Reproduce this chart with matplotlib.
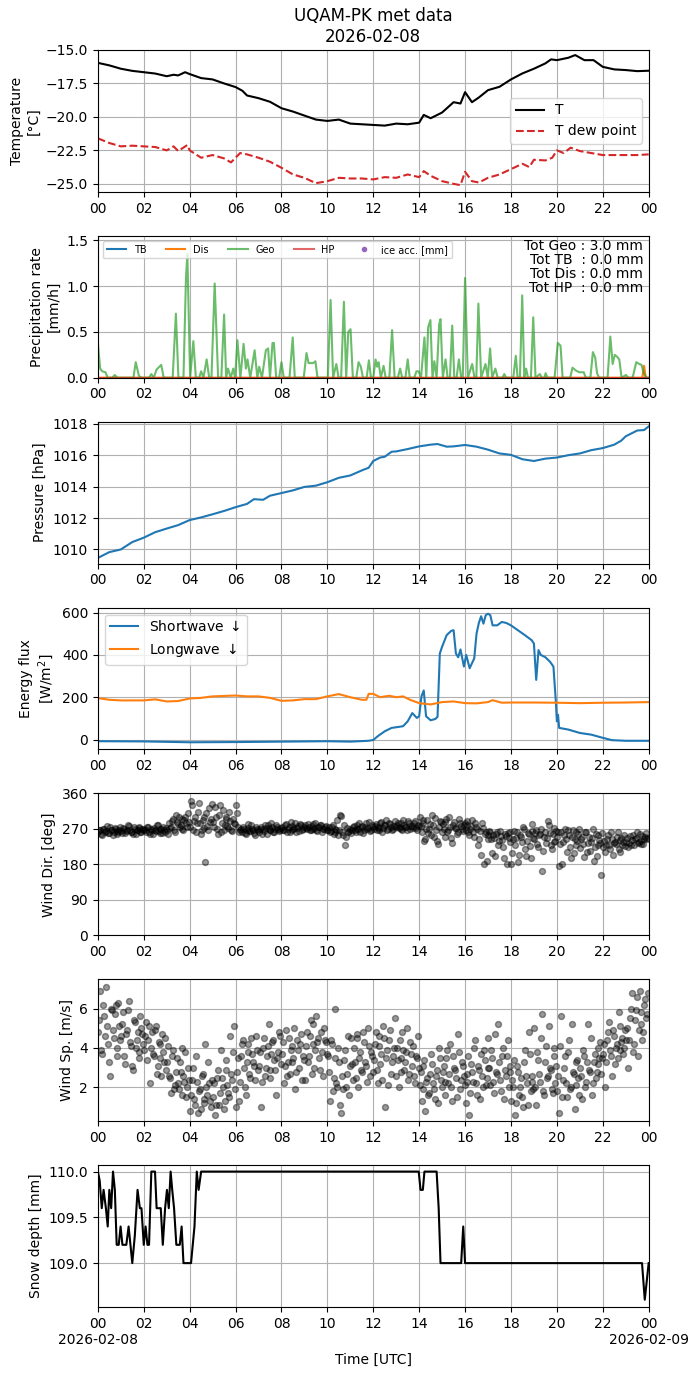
import numpy as np
import pandas as pd
import matplotlib
matplotlib.use("Agg")
import matplotlib.pyplot as plt
import matplotlib.dates as mdates
from matplotlib.ticker import FuncFormatter

# ---------------- data (hours since 2026-02-08 00 UTC) ----------------
temp_h = [0, 0.5, 1, 1.5, 2, 2.5, 3, 3.3, 3.5, 3.8, 4, 4.5, 5, 5.5, 6, 6.3, 6.5, 7, 7.5, 8, 8.5, 9, 9.5,
          10, 10.5, 11, 11.5, 12, 12.5, 13, 13.5, 14, 14.2, 14.5, 15, 15.5, 15.8, 16, 16.3, 16.6, 17, 17.5,
          18, 18.5, 19, 19.5, 19.75, 20, 20.5, 20.8, 21.2, 21.6, 22, 22.5, 23, 23.5, 24]
temp_T = [-15.96, -16.15, -16.4, -16.56, -16.66, -16.76, -16.96, -16.85, -16.9, -16.66, -16.8, -17.1, -17.2,
          -17.5, -17.77, -18.05, -18.4, -18.6, -18.87, -19.35, -19.6, -19.9, -20.2, -20.3, -20.2, -20.5,
          -20.55, -20.6, -20.65, -20.5, -20.55, -20.43, -19.85, -20.1, -19.67, -18.9, -19.0, -18.15, -18.9,
          -18.55, -18.0, -17.75, -17.2, -16.75, -16.4, -16.0, -15.7, -15.76, -15.58, -15.38, -15.76, -15.76,
          -16.26, -16.45, -16.5, -16.58, -16.55]
dew_h = [0, 0.5, 1, 1.5, 2, 2.5, 3, 3.3, 3.5, 3.9, 4, 4.5, 5, 5.5, 5.8, 6, 6.2, 6.5, 7, 7.5, 8, 8.5, 9, 9.5,
         10, 10.5, 11, 11.5, 12, 12.5, 13, 13.5, 14, 14.2, 14.5, 15, 15.5, 15.8, 16, 16.3, 16.6, 17, 17.5,
         18, 18.5, 18.8, 19, 19.5, 19.8, 20, 20.3, 20.6, 21, 21.5, 22, 22.5, 23, 23.5, 24]
dew_T = [-21.6, -21.95, -22.2, -22.15, -22.2, -22.25, -22.5, -22.2, -22.55, -22.1, -22.5, -23.05, -22.85,
         -23.1, -23.4, -23.05, -22.7, -22.8, -23.05, -23.35, -23.8, -24.3, -24.55, -24.95, -24.8, -24.55,
         -24.6, -24.6, -24.67, -24.5, -24.55, -24.3, -24.5, -24.05, -24.4, -24.8, -25.0, -25.1, -24.1,
         -24.8, -24.9, -24.55, -24.3, -23.9, -23.5, -23.75, -23.2, -23.25, -23.05, -22.5, -22.7, -22.3,
         -22.55, -22.7, -22.85, -22.85, -22.85, -22.85, -22.8]

geo_h = [0.0, 0.1, 0.19, 0.33, 0.43, 0.62, 0.74, 0.85, 1.55, 1.65, 1.79, 1.9, 2.23, 2.33, 2.43, 2.56, 2.76,
         2.87, 3.26, 3.4, 3.51, 3.73, 3.84, 3.9, 4.02, 4.16, 4.27, 4.41, 4.5, 4.6, 4.74, 4.85, 4.95, 5.09,
         5.24, 5.38, 5.5, 5.59, 5.67, 5.79, 5.9, 5.98, 6.08, 6.21, 6.35, 6.45, 6.52, 6.64, 6.83, 6.95, 7.03,
         7.15, 7.32, 7.42, 7.5, 7.61, 7.67, 7.77, 7.9, 8.0, 8.1, 8.35, 8.49, 8.58, 8.97, 9.09, 9.18, 9.38,
         9.48, 9.57, 10.02, 10.14, 10.25, 10.39, 10.49, 10.6, 10.72, 10.82, 10.91, 11.01, 11.11, 11.26,
         11.36, 11.46, 11.55, 11.71, 11.81, 11.9, 12.0, 12.1, 12.17, 12.23, 12.33, 12.45, 12.54, 12.7,
         12.82, 12.93, 13.07, 13.17, 13.26, 13.4, 13.5, 13.59, 13.79, 13.88, 13.98, 14.08, 14.23, 14.31,
         14.39, 14.49, 14.58, 14.66, 14.76, 14.87, 14.93, 15.03, 15.15, 15.24, 15.34, 15.44, 15.53, 15.63,
         15.73, 15.83, 15.9, 16.0, 16.12, 16.31, 16.41, 16.49, 16.58, 16.7, 16.89, 16.99, 17.09, 17.18,
         17.32, 17.42, 17.63, 17.71, 17.79, 18.1, 18.21, 18.29, 18.39, 18.49, 18.58, 18.66, 18.74, 18.87,
         18.97, 19.07, 19.26, 19.34, 19.46, 19.51, 19.59, 19.9, 20.04, 20.16, 20.25, 20.58, 20.68, 20.82,
         20.97, 21.07, 21.17, 21.26, 21.46, 21.57, 21.67, 21.75, 21.84, 22.21, 22.33, 22.43, 22.52, 22.62,
         22.72, 22.82, 23.01, 23.11, 23.3, 23.46, 23.59, 23.69, 23.79, 23.88, 24.0]
geo_v = [0.38, 0.1, 0.07, 0.06, 0, 0, 0.03, 0, 0, 0.17, 0.02, 0, 0, 0.04, 0, 0.09, 0.14,
         0, 0, 0.7, 0, 0, 1.1, 1.35, 0, 0.4, 0, 0, 0.07, 0, 0.2, 0, 0, 1.03,
         0, 0, 0.69, 0, 0.1, 0, 0.1, 0, 0.41, 0, 0.37, 0.1, 0.2, 0, 0.3, 0, 0.12,
         0, 0.3, 0.32, 0, 0.38, 0.38, 0, 0, 0.17, 0, 0, 0.44, 0, 0, 0.27, 0.16, 0.16,
         0.18, 0, 0, 0.85, 0, 0.15, 0, 0, 0.83, 0, 0.5, 0.53, 0, 0,
         0.17, 0.12, 0, 0, 0.19, 0, 0, 0.2, 0.12, 0.17, 0, 0.13, 0, 0,
         0.52, 0, 0, 0.1, 0, 0, 0.2, 0, 0, 0.07, 0.07, 0, 0.44, 0,
         0.55, 0.63, 0, 0.18, 0, 0.58, 0.64, 0, 0.2, 0, 0, 0.57, 0, 0,
         0.2, 0, 0, 1.09, 0, 0.15, 0, 0, 0.81, 0, 0.15, 0, 0.32, 0,
         0.1, 0, 0, 0.04, 0, 0, 0.24, 0, 0, 0.9, 0, 0.1, 0, 0,
         0.66, 0, 0.04, 0, 0, 0.05, 0, 0, 0.38, 0.35, 0, 0, 0.11, 0.08,
         0.06, 0.06, 0.06, 0, 0, 0.28, 0.22, 0.05, 0, 0, 0.45, 0.15, 0.25, 0.23,
         0.2, 0, 0.03, 0, 0, 0.17, 0.15, 0.14, 0.05, 0, 0]
tb_h = [0, 24]
tb_v = [0, 0]
dis_h = [0, 23.72, 23.8, 23.86, 23.92, 24]
dis_v = [0, 0, 0.13, 0.02, 0, 0]
hp_h = [0, 24]
hp_v = [0, 0]
tot_geo, tot_tb, tot_dis, tot_hp = 3.0, 0.0, 0.0, 0.0

pres_h = [0, 0.5, 1, 1.5, 2, 2.5, 3, 3.5, 4, 4.5, 5, 5.5, 6, 6.5, 6.8, 7.2, 7.5, 8, 8.5, 9, 9.5, 10, 10.5,
          11, 11.5, 11.8, 12, 12.3, 12.5, 12.8, 13, 13.5, 14, 14.5, 14.8, 15.2, 15.5, 16, 16.5, 17, 17.5,
          18, 18.5, 19, 19.5, 20, 20.5, 21, 21.5, 22, 22.5, 22.8, 23, 23.5, 23.8, 24]
pres_v = [1009.46, 1009.83, 1010.0, 1010.47, 1010.75, 1011.1, 1011.33, 1011.55, 1011.87, 1012.04, 1012.24,
          1012.45, 1012.69, 1012.9, 1013.2, 1013.16, 1013.42, 1013.59, 1013.76, 1013.98, 1014.06, 1014.28,
          1014.56, 1014.71, 1015.03, 1015.2, 1015.63, 1015.85, 1015.9, 1016.22, 1016.24, 1016.39, 1016.56,
          1016.67, 1016.71, 1016.54, 1016.56, 1016.65, 1016.54, 1016.35, 1016.11, 1016.02, 1015.74, 1015.63,
          1015.78, 1015.85, 1016.0, 1016.11, 1016.32, 1016.45, 1016.67, 1016.92, 1017.2, 1017.57, 1017.6,
          1017.83]

sw_h = [0, 2, 4, 6, 8, 10, 11, 11.8, 12, 12.2, 12.5, 12.8, 13, 13.3, 13.5, 13.7, 13.9, 14.0, 14.1, 14.2,
        14.3, 14.5, 14.7, 14.8, 14.9, 15.0, 15.2, 15.4, 15.5, 15.6, 15.7, 15.8, 15.95, 16.05, 16.2, 16.4,
        16.5, 16.6, 16.7, 16.8, 16.9, 17.0, 17.1, 17.2, 17.4, 17.6, 17.8, 18.0, 18.3, 18.6, 18.9, 19.0,
        19.1, 19.2, 19.3, 19.5, 19.7, 19.85, 19.95, 20.0, 20.05, 20.1, 20.5, 21, 21.5, 22, 22.4, 23, 24]
sw_v = [-8, -9, -13, -12, -10, -8, -10, -6, -2, 16, 39, 55, 58, 63, 86, 125, 102, 110, 204, 232,
        110, 91, 97, 107, 407, 439, 494, 514, 517, 407, 389, 426, 345, 400, 337, 384,
        501, 551, 583, 548, 588, 595, 588, 540, 540, 556, 551, 540, 517, 494, 470, 454,
        282, 423, 400, 389, 368, 345, 188, 86, 117, 55, 47, 31, 23, 8, -3, -6, -6]
lw_h = [0, 0.5, 1, 2, 2.5, 3, 3.5, 4, 4.5, 5, 6, 6.5, 7, 7.5, 8, 8.5, 9, 9.5, 10, 10.5, 11, 11.5, 11.7,
        11.8, 12, 12.3, 12.7, 13, 13.3, 13.6, 14, 14.5, 15, 15.5, 16, 16.5, 17, 17.2, 17.6, 18, 19, 20,
        21, 22, 23, 24]
lw_v = [196, 188, 185, 185, 190, 180, 182, 194, 197, 204, 208, 204, 204, 197, 183, 185, 191, 191, 204,
        215, 200, 188, 188, 216, 216, 200, 207, 200, 204, 188, 172, 166, 177, 180, 172, 171, 177, 186,
        174, 175, 175, 174, 172, 174, 175, 177]

# wind, two interleaved sets of 5-minute samples (12 per hour each)
wdir_a = [
    262, 268, 255, 271, 264, 259, 275, 266, 261, 270, 258, 267,
    265, 272, 260, 268, 278, 263, 257, 270, 266, 274, 261, 269,
    270, 263, 276, 258, 267, 272, 264, 281, 260, 269, 274, 262,
    268, 285, 275, 296, 262, 288, 301, 279, 270, 292, 284, 310,
    275, 330, 290, 262, 312, 284, 268, 300, 185, 278, 322, 295,
    288, 325, 270, 305, 262, 318, 280, 296, 272, 290, 264, 285,
    330, 275, 266, 262, 270, 258, 273, 265, 280, 268, 255, 271,
    262, 276, 269, 281, 258, 272, 266, 275, 263, 279, 270, 268,
    274, 266, 283, 270, 262, 277, 269, 286, 272, 265, 279, 271,
    280, 270, 276, 266, 283, 272, 268, 275, 279, 263, 271, 277,
    268, 262, 275, 258, 270, 292, 266, 302, 255, 228, 272, 265,
    260, 274, 266, 281, 270, 263, 277, 268, 284, 272, 265, 279,
    270, 282, 275, 266, 288, 273, 280, 268, 285, 276, 271, 290,
    279, 272, 286, 268, 281, 275, 290, 270, 277, 284, 273, 280,
    300, 262, 285, 245, 292, 270, 255, 280, 298, 240, 275, 288,
    282, 250, 295, 268, 276, 233, 288, 272, 262, 285, 270, 279,
    268, 290, 255, 278, 262, 285, 270, 245, 205, 272, 258, 188,
    255, 262, 210, 248, 258, 230, 265, 242, 195, 252, 260, 238,
    180, 245, 230, 262, 205, 250, 275, 220, 240, 258, 196, 265,
    245, 268, 225, 258, 162, 250, 235, 290, 260, 218, 272, 240,
    250, 175, 262, 238, 270, 212, 255, 195, 268, 245, 230, 258,
    222, 250, 198, 262, 235, 215, 248, 188, 258, 230, 242, 152,
    225, 212, 245, 230, 262, 205, 238, 250, 220, 242, 228, 255,
    238, 225, 252, 242, 230, 248, 235, 258, 240, 232, 250, 245]
wdir_b = [
    266, 258, 270, 263, 277, 260, 268, 254, 272, 265, 261, 274,
    259, 270, 264, 281, 267, 262, 275, 258, 268, 272, 263, 266,
    268, 275, 261, 270, 257, 266, 279, 264, 271, 260, 268, 273,
    256, 272, 290, 266, 305, 282, 276, 294, 268, 300, 276, 288,
    340, 268, 300, 286, 336, 258, 292, 272, 310, 268, 288, 334,
    276, 300, 258, 330, 284, 266, 300, 278, 312, 268, 296, 282,
    310, 262, 270, 275, 260, 268, 282, 264, 270, 259, 276, 266,
    270, 258, 265, 272, 279, 266, 284, 261, 270, 276, 265, 273,
    268, 280, 263, 274, 288, 266, 272, 262, 278, 283, 268, 275,
    272, 282, 268, 278, 270, 286, 264, 274, 281, 269, 276, 266,
    275, 265, 280, 262, 268, 255, 305, 262, 280, 250, 262, 270,
    268, 278, 262, 270, 286, 274, 260, 275, 270, 288, 268, 275,
    278, 268, 272, 284, 262, 279, 292, 270, 282, 268, 278, 275,
    285, 276, 270, 292, 276, 268, 285, 278, 272, 290, 268, 278,
    278, 292, 240, 270, 260, 282, 305, 250, 268, 232, 290, 262,
    270, 288, 262, 300, 246, 280, 272, 258, 296, 278, 264, 286,
    280, 262, 270, 292, 250, 276, 230, 264, 285, 180, 262, 244,
    265, 245, 255, 200, 262, 240, 252, 225, 258, 180, 248, 262,
    210, 265, 248, 185, 255, 238, 270, 200, 260, 226, 282, 248,
    260, 232, 255, 270, 215, 262, 248, 280, 228, 256, 236, 265,
    262, 232, 180, 255, 245, 268, 225, 250, 210, 262, 240, 270,
    245, 232, 262, 212, 250, 238, 270, 225, 200, 255, 235, 260,
    240, 228, 255, 218, 245, 235, 232, 262, 212, 248, 238, 226,
    248, 235, 228, 255, 245, 262, 238, 232, 252, 245, 260, 248]
wspd_a = [
    4.8, 6.9, 3.7, 5.6, 7.1, 4.2, 2.6, 5.9, 4.5, 6.2, 3.6, 5.1,
    4.6, 5.8, 3.2, 4.9, 6.4, 4.1, 2.9, 5.3, 4.4, 3.8, 5.6, 4.7,
    3.9, 5.3, 4.4, 2.2, 4.8, 3.6, 5.1, 3.1, 4.2, 2.6, 3.8, 4.5,
    3.3, 2.6, 1.7, 3.9, 2.1, 3.5, 1.9, 2.8, 4.0, 2.3, 1.5, 3.0,
    0.8, 2.4, 1.4, 3.6, 0.7, 1.9, 2.6, 1.2, 4.2, 1.6, 2.2, 1.0,
    1.5, 0.6, 2.5, 1.1, 3.9, 2.0, 1.3, 2.9, 1.7, 4.6, 2.4, 5.1,
    1.0, 3.5, 2.3, 4.2, 3.0, 1.6, 3.8, 2.7, 4.5, 3.3, 2.4, 3.9,
    3.1, 1.0, 4.0, 2.6, 3.6, 5.2, 2.9, 4.3, 3.4, 1.6, 3.8, 4.6,
    3.7, 2.2, 4.9, 3.3, 2.7, 4.1, 3.5, 1.9, 4.4, 3.0, 4.7, 3.6,
    2.4, 4.8, 3.6, 5.4, 4.2, 3.0, 5.6, 4.5, 2.9, 3.8, 5.0, 4.3,
    3.6, 1.3, 4.2, 2.5, 6.0, 2.0, 3.3, 0.7, 1.9, 3.9, 2.7, 1.6,
    4.5, 2.4, 3.3, 4.7, 2.0, 3.8, 2.8, 4.3, 3.1, 5.0, 2.6, 3.6,
    3.4, 4.8, 2.2, 4.1, 3.7, 5.1, 1.0, 3.9, 4.4, 2.7, 3.6, 5.5,
    4.0, 2.0, 3.5, 4.8, 2.9, 3.8, 2.4, 4.3, 3.1, 2.6, 3.6, 4.6,
    2.1, 1.3, 3.1, 0.8, 2.5, 1.7, 3.7, 2.2, 1.4, 2.9, 4.0, 2.4,
    2.8, 1.6, 3.5, 2.2, 4.2, 1.3, 3.0, 2.5, 4.7, 1.9, 3.3, 2.6,
    1.2, 2.7, 0.6, 3.2, 2.3, 4.4, 1.6, 2.9, 3.7, 2.0, 3.4, 2.5,
    4.5, 2.1, 3.5, 1.7, 2.8, 5.2, 2.4, 3.6, 1.4, 2.6, 4.4, 3.1,
    1.3, 2.0, 0.6, 3.1, 1.6, 2.5, 1.0, 3.9, 2.2, 4.8, 1.8, 2.6,
    5.0, 1.1, 3.4, 2.3, 5.7, 1.6, 4.1, 2.6, 3.0, 1.9, 3.6, 2.2,
    1.8, 0.7, 5.6, 2.4, 3.6, 1.5, 4.4, 2.0, 2.8, 0.9, 3.3, 2.5,
    3.0, 1.4, 3.6, 2.3, 5.2, 2.8, 1.6, 3.3, 2.5, 4.0, 3.5, 2.7,
    3.7, 2.0, 4.4, 5.3, 3.6, 4.9, 3.2, 4.2, 5.8, 3.9, 4.5, 4.0,
    4.4, 3.0, 5.5, 6.8, 4.2, 5.9, 3.6, 6.9, 5.2, 4.8, 6.5, 5.7]
wspd_b = [
    5.4, 3.9, 6.2, 4.6, 5.1, 3.3, 6.0, 4.9, 5.7, 4.0, 6.3, 4.4,
    5.2, 3.6, 4.7, 5.9, 4.3, 3.1, 5.4, 4.0, 4.8, 3.5, 5.0, 4.2,
    4.6, 3.4, 5.1, 4.0, 3.7, 4.9, 2.7, 4.3, 3.5, 4.7, 3.3, 2.9,
    4.1, 2.5, 3.6, 1.9, 2.8, 2.2, 3.3, 1.6, 2.6, 3.8, 2.0, 2.4,
    1.6, 3.0, 1.1, 2.3, 1.8, 0.9, 2.7, 1.4, 2.0, 3.3, 1.3, 2.4,
    2.2, 1.1, 2.9, 1.7, 2.5, 0.9, 3.4, 2.1, 1.5, 2.7, 3.8, 1.9,
    2.8, 1.3, 3.6, 4.4, 2.0, 3.3, 4.2, 2.5, 3.7, 3.1, 4.6, 2.9,
    3.8, 2.3, 4.5, 3.0, 4.1, 2.5, 3.7, 4.4, 2.9, 3.5, 4.8, 3.2,
    4.3, 3.1, 2.6, 4.5, 3.9, 3.3, 5.0, 2.8, 3.9, 4.2, 2.4, 3.4,
    4.1, 3.3, 4.6, 2.7, 5.2, 3.9, 4.3, 3.5, 4.8, 2.6, 4.4, 3.7,
    2.8, 4.4, 1.8, 3.5, 2.2, 4.0, 1.1, 2.6, 3.4, 2.0, 4.6, 3.1,
    3.2, 4.0, 2.5, 4.5, 3.5, 2.9, 4.8, 3.3, 2.3, 4.1, 3.8, 2.8,
    4.2, 2.9, 4.6, 3.2, 2.4, 4.5, 3.5, 2.1, 4.9, 3.3, 4.0, 2.6,
    3.4, 4.4, 2.8, 3.9, 3.3, 5.0, 2.7, 3.7, 4.1, 2.2, 3.5, 3.0,
    2.8, 1.9, 3.4, 2.3, 1.6, 2.7, 3.2, 1.9, 2.6, 1.2, 3.5, 2.0,
    3.1, 2.3, 3.9, 2.7, 2.0, 3.6, 2.9, 1.5, 3.8, 2.4, 3.1, 2.1,
    2.3, 3.6, 1.7, 2.8, 4.0, 2.2, 3.1, 1.4, 2.6, 3.9, 2.1, 3.0,
    3.0, 3.9, 2.3, 4.7, 2.7, 3.3, 1.8, 4.0, 2.9, 3.6, 2.0, 2.8,
    2.4, 3.4, 1.2, 2.8, 2.0, 1.5, 3.3, 2.6, 1.1, 3.7, 2.3, 1.9,
    2.0, 3.8, 2.7, 4.5, 1.8, 3.3, 2.5, 5.1, 2.9, 1.7, 4.0, 3.1,
    2.6, 4.1, 1.5, 3.0, 2.2, 3.8, 1.9, 5.2, 2.7, 2.1, 3.4, 1.6,
    2.6, 3.9, 2.0, 3.3, 2.9, 4.5, 2.2, 3.7, 2.8, 3.2, 4.3, 3.5,
    4.2, 3.3, 4.8, 3.9, 2.6, 4.6, 4.0, 3.5, 5.1, 4.3, 3.7, 4.9,
    5.0, 4.4, 6.0, 3.8, 5.4, 6.6, 4.9, 5.8, 4.4, 6.2, 5.5, 6.8]
wind_h_a = (np.arange(len(wdir_a)) + 0.25) / 12.0
wind_h_b = (np.arange(len(wdir_b)) + 0.75) / 12.0

snow_h = [0, 0.08, 0.17, 0.25, 0.35, 0.43, 0.5, 0.58, 0.66, 0.74, 0.82, 0.91, 0.99, 1.07, 1.24, 1.34, 1.42,
          1.5, 1.61, 1.73, 1.83, 1.9, 2.0, 2.08, 2.16, 2.23, 2.33, 2.49, 2.56, 2.74, 2.83, 2.93, 3.01, 3.09,
          3.17, 3.24, 3.32, 3.42, 3.57, 3.65, 3.73, 4.06, 4.21, 4.31, 4.39, 4.5, 13.98, 14.06, 14.16, 14.23,
          14.76, 14.85, 14.93, 15.83, 15.92, 16.0, 23.71, 23.83, 24.0]
snow_v = [110.0, 109.9, 109.6, 109.8, 109.6, 109.4, 109.8, 109.6, 110.0, 109.8, 109.2, 109.2, 109.4, 109.2,
          109.2, 109.4, 109.2, 109.0, 109.3, 109.8, 109.6, 109.6, 109.2, 109.4, 109.2, 109.2, 110.0, 110.0,
          109.6, 109.6, 109.2, 109.6, 109.8, 109.6, 110.0, 109.8, 109.6, 109.2, 109.2, 109.4, 109.0, 109.0,
          109.4, 110.0, 109.8, 110.0, 110.0, 109.8, 109.8, 110.0, 110.0, 109.6, 109.0, 109.0, 109.4, 109.0,
          109.0, 108.6, 109.0]

# ---------------- plotting ----------------
base = pd.Timestamp("2026-02-08")


def tt(h):
    return base + pd.to_timedelta(np.asarray(h, dtype=float), unit="h")


fig, axes = plt.subplots(7, 1, figsize=(6.99, 13.77), dpi=100)
fig.subplots_adjust(left=0.14, right=0.928, top=0.9637, bottom=0.0508, hspace=0.31)

# 1 temperature
ax = axes[0]
ax.plot(tt(temp_h), temp_T, color="k", lw=1.5, label="T")
ax.plot(tt(dew_h), dew_T, color="C3", ls="--", lw=1.5, label="T dew point")
ax.set_ylim(-25.6, -15.0)
ax.set_yticks([-25.0, -22.5, -20.0, -17.5, -15.0])
ax.set_ylabel("Temperature\n[°C]")
ax.legend(loc="center right")
ax.set_title("UQAM-PK met data\n2026-02-08")

# 2 precipitation
ax = axes[1]
ax.plot(tt(tb_h), tb_v, color="C0", lw=1.5, label="TB")
ax.plot(tt(dis_h), dis_v, color="C1", lw=1.5, label="Dis")
ax.plot(tt(geo_h), geo_v, color="C2", lw=1.5, alpha=0.7, label="Geo")
ax.plot(tt(hp_h), hp_v, color="C3", lw=1.5, alpha=0.7, label="HP")
ax.plot([], [], ".", color="C4", label="ice acc. [mm]")
ax.set_ylim(0, 1.55)
ax.set_yticks([0.0, 0.5, 1.0, 1.5])
ax.set_ylabel("Precipitation rate\n[mm/h]")
ax.legend(loc="upper left", ncol=5, fontsize=7)
ax.text(0.99, 0.98,
        f"Tot Geo : {tot_geo:.1f} mm\nTot TB  : {tot_tb:.1f} mm\nTot Dis : {tot_dis:.1f} mm\nTot HP  : {tot_hp:.1f} mm",
        transform=ax.transAxes, ha="right", va="top", fontsize=10, linespacing=1.0)

# 3 pressure
ax = axes[2]
ax.plot(tt(pres_h), pres_v, color="C0", lw=1.5)
ax.set_ylim(1009.1, 1018.13)
ax.set_yticks([1010, 1012, 1014, 1016, 1018])
ax.set_ylabel("Pressure [hPa]")

# 4 radiation
ax = axes[3]
ax.plot(tt(sw_h), sw_v, color="C0", lw=1.5, label="Shortwave $\\downarrow$")
ax.plot(tt(lw_h), lw_v, color="C1", lw=1.5, label="Longwave $\\downarrow$")
ax.set_ylim(-47, 624)
ax.set_yticks([0, 200, 400, 600])
ax.set_ylabel("Energy flux\n[W/m$^2$]")
ax.legend(loc="upper left")

# 5 wind direction
ax = axes[4]
ax.plot(tt(wind_h_a), wdir_a, "o", color="k", alpha=0.4, ms=4.3)
ax.plot(tt(wind_h_b), wdir_b, "o", color="k", alpha=0.4, ms=4.3)
ax.set_ylim(0, 360)
ax.set_yticks([0, 90, 180, 270, 360])
ax.set_ylabel("Wind Dir. [deg]")

# 6 wind speed
ax = axes[5]
ax.plot(tt(wind_h_a), wspd_a, "o", color="k", alpha=0.4, ms=4.3)
ax.plot(tt(wind_h_b), wspd_b, "o", color="k", alpha=0.4, ms=4.3)
ax.set_ylim(0.29, 7.48)
ax.set_yticks([2, 4, 6])
ax.set_ylabel("Wind Sp. [m/s]")

# 7 snow depth
ax = axes[6]
ax.plot(tt(snow_h), snow_v, color="k", lw=1.5)
ax.set_ylim(108.52, 110.07)
ax.set_yticks([109.0, 109.5, 110.0])
ax.set_ylabel("Snow depth [mm]")
ax.set_xlabel("Time [UTC]")

t0 = base
t1 = base + pd.Timedelta(hours=24)
for i, ax in enumerate(axes):
    ax.set_xlim(t0, t1)
    ax.xaxis.set_major_locator(mdates.HourLocator(byhour=range(0, 24, 2)))
    if i == len(axes) - 1:
        def fmt(x, pos):
            d = mdates.num2date(x)
            if d.hour == 0:
                return d.strftime("%H\n%Y-%m-%d")
            return d.strftime("%H")
        ax.xaxis.set_major_formatter(FuncFormatter(fmt))
    else:
        ax.xaxis.set_major_formatter(mdates.DateFormatter("%H"))
    ax.grid(True)

fig.savefig("out.png", dpi=100)
